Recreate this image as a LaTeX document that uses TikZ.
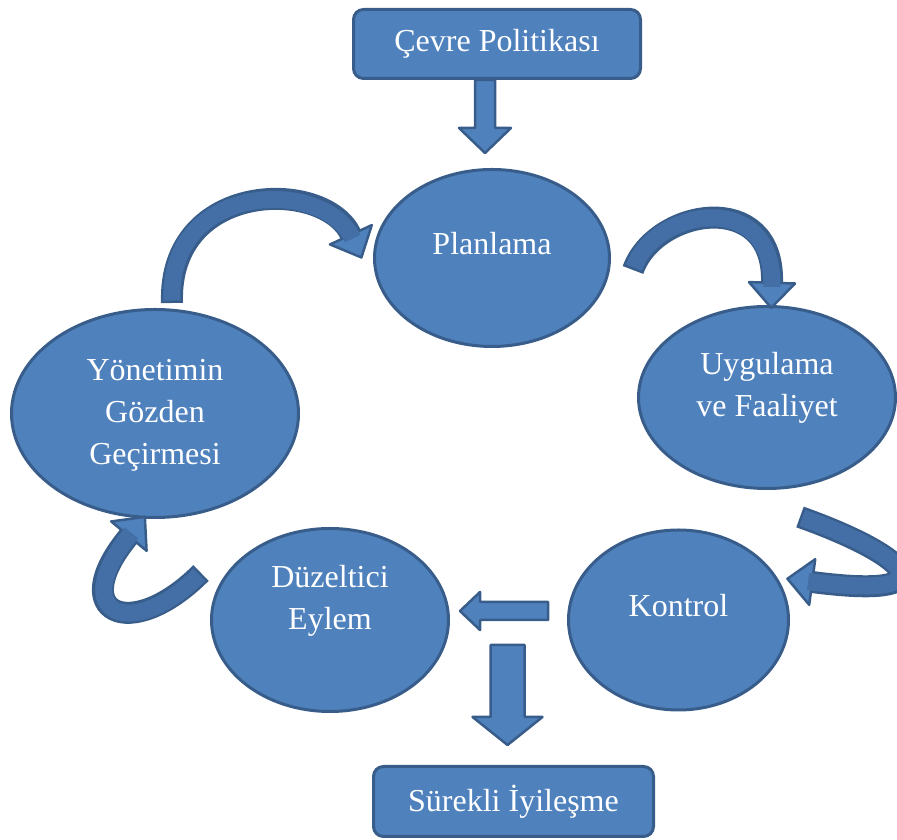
\documentclass[tikz,border=0pt]{standalone}
\usepackage{fontspec}
\setmainfont{Liberation Serif}
\usetikzlibrary{shapes.geometric,decorations.markings,positioning}
\definecolor{ofblue}{HTML}{4F81BD}
\definecolor{ofline}{HTML}{385D8A}
\definecolor{ofband}{HTML}{436FA6}
\newcommand\bendarrow[1]{%
  \draw[line width=22pt, ofline,
    postaction={decorate, decoration={markings, mark=at position 0.999 with {%
      \filldraw[fill=ofblue, draw=ofline, line width=2.5pt, line join=round]
        (0,23) -- (25,0) -- (0,-23) -- cycle;}}}] #1;
  \draw[line width=17pt, ofband, shorten <=2.5pt, shorten >=-4pt] #1;
}

\begin{document}
\begin{tikzpicture}[x=1pt, y=1pt,
    oval/.style={ellipse, fill=ofblue, draw=ofline, line width=3pt, inner sep=0pt},
    rbox/.style={rectangle, rounded corners=10pt, fill=ofblue, draw=ofline, line width=3pt,
      inner sep=0pt, text=white, font=\fontsize{32}{42}\selectfont},
    lbl/.style={text=white, font=\fontsize{32}{42}\selectfont, align=center,
      inner sep=0pt, anchor=base},
    blockarr/.style={fill=ofblue, draw=ofline, line width=2.5pt, line join=round}]
    \useasboundingbox (0,0) rectangle (897,840);

    \node[rbox, minimum width=287pt, minimum height=69pt] (top) at (497,796) {Çevre Politikası};
    \node[oval, minimum width=235pt, minimum height=177pt] (plan) at (492,582) {};
    \node[oval, minimum width=257pt, minimum height=182pt] (uyg) at (767,442.5) {};
    \node[oval, minimum width=287pt, minimum height=208pt] (yon) at (155,426.5) {};
    \node[oval, minimum width=237pt, minimum height=183pt] (duz) at (330,220) {};
    \node[oval, minimum width=220pt, minimum height=180pt, right=117pt of duz] (kon) {};
    \node[rbox, minimum width=280pt, minimum height=70pt] (sur) at (513.5,38.5) {Sürekli İyileşme};

    % base of a multi-line label is its last line
    \node[lbl] (plan-t) at ([yshift=3pt]plan.center) {Planlama};
    \node[lbl] (uyg-t) at ([yshift=-19.5pt]uyg.center) {Uygulama\\ve Faaliyet};
    \node[lbl] (yon-t) at ([yshift=-51.5pt]yon.center) {Yönetimin\\Gözden\\Geçirmesi};
    \node[lbl] (duz-t) at ([yshift=-10pt]duz.center) {Düzeltici\\Eylem};
    \node[lbl] (kon-t) at ([yshift=3.5pt]kon.center) {Kontrol};

    % straight block arrows
    \draw[blockarr] ([xshift=-22pt]top.south) -- ++(0,-48) -- ++(-16,0) -- ++(26,-25)
      -- ++(26,25) -- ++(-16,0) -- ++(0,48) -- cycle;
    \draw[blockarr] ([shift={(10pt,9pt)}]duz.east) -- ++(20,19) -- ++(0,-10) -- ++(68,0)
      -- ++(0,-18) -- ++(-68,0) -- ++(0,-10) -- cycle;
    \draw[blockarr] ([shift={(-6pt,20pt)}]sur.north) -- ++(35,28) -- ++(-18,0) -- ++(0,72)
      -- ++(-34,0) -- ++(0,-72) -- ++(-18,0) -- cycle;

    % curved arrows round the cycle
    \coordinate (yon-out) at (172,537);
    \coordinate (plan-in) at (351,605);
    \coordinate (plan-out) at (633,570);
    \coordinate (uyg-in) at (772,557);
    \coordinate (uyg-out) at (800,323);
    \coordinate (kon-in) at (812,258);
    \coordinate (duz-out) at (201,267);
    \coordinate (yon-in) at (129,304);
    \bendarrow{(yon-out) .. controls (168,660) and (325,662) .. (plan-in)}
    \bendarrow{(plan-out) .. controls (655,632) and (775,652) .. (uyg-in)}
    \bendarrow{(uyg-out) .. controls (915,282) and (948,240) .. (kon-in)}
    \bendarrow{(duz-out) .. controls (130,196) and (65,227) .. (yon-in)}
\end{tikzpicture}
\end{document}
